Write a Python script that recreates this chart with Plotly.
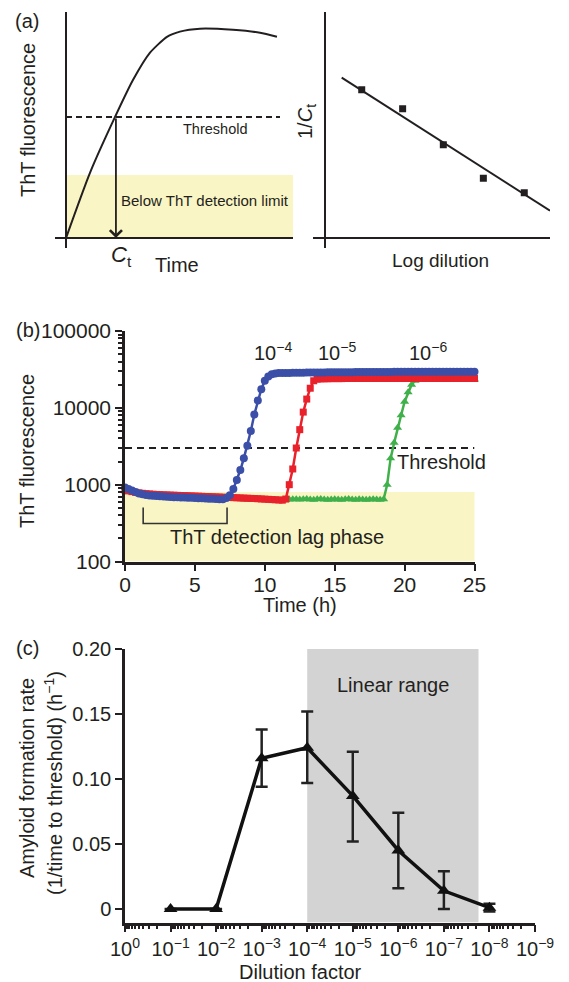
import plotly.graph_objects as go

# ---------------- Panel (a) left: schematic ThT curve ----------------
a_time = [0, 1.09, 2.23, 3.05, 3.82, 4.59, 5.18, 6.09, 7.59, 8.82, 9.59]
a_fluor = [0, 2.88, 5.35, 6.99, 8.19, 8.89, 9.12, 9.25, 9.20, 9.07, 8.89]
a_threshold = 5.35
a_threshold_x = [0, 9.73]
a_ct = 2.27
a_detect_limit = 2.79

# ---------------- Panel (a) right: 1/Ct vs log dilution ----------------
a_logdil = [1.67, 3.53, 5.38, 7.20, 9.06]
a_inv_ct = [6.55, 5.71, 4.12, 2.64, 2.00]
a_fit_x = [0.76, 10.23]
a_fit_y = [7.09, 1.21]

# ---------------- Panel (b): ThT kinetics ----------------
time_h = [0, 0.25, 0.5, 0.75, 1, 1.25, 1.5, 1.75, 2, 2.25, 2.5, 2.75, 3, 3.25, 3.5, 3.75,
          4, 4.25, 4.5, 4.75, 5, 5.25, 5.5, 5.75, 6, 6.25, 6.5, 6.75, 7, 7.25, 7.5, 7.75,
          8, 8.25, 8.5, 8.75, 9, 9.25, 9.5, 9.75, 10, 10.25, 10.5, 10.75, 11, 11.25, 11.5,
          11.75, 12, 12.25, 12.5, 12.75, 13, 13.25, 13.5, 13.75, 14, 14.25, 14.5, 14.75,
          15, 15.25, 15.5, 15.75, 16, 16.25, 16.5, 16.75, 17, 17.25, 17.5, 17.75, 18, 18.25,
          18.5, 18.75, 19, 19.25, 19.5, 19.75, 20, 20.25, 20.5, 20.75, 21, 21.25, 21.5, 21.75,
          22, 22.25, 22.5, 22.75, 23, 23.25, 23.5, 23.75, 24, 24.25, 24.5, 24.75, 25]

fluor_1e4 = [920, 880, 840, 800, 770, 750, 735, 725, 715, 710, 705, 700, 695, 690, 688, 685,
             682, 680, 677, 675, 672, 668, 665, 662, 658, 655, 650, 647, 645,
             670, 730, 880, 1150, 1550, 2200, 3200, 5000, 8200, 12500, 17500, 22500, 25500,
             27300, 28000, 28300,
             28400, 28500, 28500, 28600, 28600, 28700, 28700, 28800, 28800, 28800,
             28900, 28900, 28900, 29000, 29000, 29000, 29000, 29100, 29100, 29100,
             29100, 29200, 29200, 29200, 29200, 29200, 29300, 29300, 29300, 29300,
             29300, 29300, 29400, 29400, 29400, 29400, 29400, 29400, 29400, 29400,
             29500, 29500, 29500, 29500, 29500, 29500, 29500, 29500, 29500, 29500,
             29500, 29500, 29500, 29500, 29500, 29500]

fluor_1e5 = [850, 830, 812, 795, 782, 772, 764, 757, 751, 746,
             742, 738, 735, 732, 729, 726, 723, 720, 717, 714,
             711, 708, 705, 702, 699, 696, 693, 690, 687, 684,
             681, 678, 675, 672, 669, 666, 663, 660, 656, 652,
             648, 644, 640, 636, 632, 628,
             650, 1000, 1600, 3000, 5200, 8800, 13000, 18000, 22500, 23600, 23800,
             23900, 23900, 24000, 24000, 24000, 24000, 24100, 24100, 24100, 24100,
             24100, 24100, 24100, 24100, 24100, 24100, 24100, 24100, 24100, 24100,
             24100, 24100, 24100, 24100, 24100, 24100, 24100, 24100, 24100, 24100,
             24100, 24100, 24100, 24100, 24100, 24100, 24100, 24100, 24100, 24100,
             24100, 24100, 24100, 24100]

fluor_1e6 = [830, 810, 795, 780, 768, 758, 750, 743, 737, 732,
             727, 722, 718, 714, 710, 706, 702, 698, 695, 692,
             689, 686, 683, 680, 677, 674, 671, 668, 665, 662,
             659, 656, 653, 650, 648, 646, 644, 642, 640, 638,
             636, 634, 632, 630, 629, 628, 630, 640, 648, 645,
             640, 645, 650, 642, 638, 645, 650, 640, 635, 642,
             648, 640, 636, 644, 650, 642, 638, 646, 640, 635,
             642, 648, 640, 636, 645,
             1000, 2200, 3500, 5500, 8000, 12000, 16000, 20000, 22600, 23200,
             23300, 23300, 23300, 23300, 23300, 23300, 23300, 23300, 23300, 23300,
             23300, 23300, 23300, 23300, 23300, 23300]

threshold_b = 3000
detect_limit_b = 800
lag_start, lag_end = 1.3, 7.3
lag_bracket_top, lag_bracket_bottom = 506, 313

# ---------------- Panel (c): amyloid formation rate ----------------
dilution = [1e-1, 1e-2, 1e-3, 1e-4, 1e-5, 1e-6, 1e-7, 1e-8]
rate = [0, 0, 0.116, 0.124, 0.087, 0.045, 0.014, 0.001]
rate_err_plus = [0, 0, 0.022, 0.028, 0.034, 0.029, 0.015, 0.003]
rate_err_minus = [0, 0, 0.022, 0.027, 0.035, 0.029, 0.014, 0.003]
linear_range = [1e-4, 1.74e-8]
c_ymin, c_ymax = -0.0104, 0.2

c_tickvals_x = [1, 1e-1, 1e-2, 1e-3, 1e-4, 1e-5, 1e-6, 1e-7, 1e-8, 1e-9]
c_ticktext_x = ["10<sup>0</sup>"] + ["10<sup>\u2212%d</sup>" % k for k in range(1, 10)]

# ---------------- styling helpers ----------------
W, H = 569, 982
FONT = "Liberation Sans, Arial, Helvetica, sans-serif"
INK = "#231f20"
YELLOW = "#faf5c4"
GRAY = "#d3d3d3"
BLUE = "#3b4fa8"
RED = "#e8212b"
GREEN = "#3fb04a"


def px(x):
    return x / W


def py(y):
    return 1 - y / H


fig = go.Figure()

# (a) left
fig.add_trace(go.Scatter(x=a_time, y=a_fluor, mode="lines",
                         line=dict(color=INK, width=2, shape="spline", smoothing=0.6),
                         xaxis="x", yaxis="y"))
fig.add_trace(go.Scatter(x=a_threshold_x, y=[a_threshold, a_threshold], mode="lines",
                         line=dict(color=INK, width=2, dash="6px,4px"),
                         xaxis="x", yaxis="y"))

# (a) right
fig.add_trace(go.Scatter(x=a_fit_x, y=a_fit_y, mode="lines",
                         line=dict(color=INK, width=2), xaxis="x2", yaxis="y2"))
fig.add_trace(go.Scatter(x=a_logdil, y=a_inv_ct, mode="markers",
                         marker=dict(symbol="square", size=7, color=INK),
                         xaxis="x2", yaxis="y2"))

# (b)
fig.add_trace(go.Scatter(x=[0, 25.2, 25.2, 0], y=[100, 100, detect_limit_b, detect_limit_b],
                         fill="toself", fillcolor=YELLOW, mode="none",
                         xaxis="x3", yaxis="y3"))
fig.add_trace(go.Scatter(x=[0, 25], y=[threshold_b, threshold_b], mode="lines",
                         line=dict(color=INK, width=2, dash="7px,5px"),
                         xaxis="x3", yaxis="y3"))
fig.add_trace(go.Scatter(x=time_h, y=fluor_1e6, mode="lines+markers",
                         line=dict(color=GREEN, width=2.5),
                         marker=dict(symbol="triangle-up", size=8, color=GREEN),
                         cliponaxis=False, xaxis="x3", yaxis="y3"))
fig.add_trace(go.Scatter(x=time_h, y=fluor_1e5, mode="lines+markers",
                         line=dict(color=RED, width=2.5),
                         marker=dict(symbol="square", size=7, color=RED),
                         cliponaxis=False, xaxis="x3", yaxis="y3"))
fig.add_trace(go.Scatter(x=time_h, y=fluor_1e4, mode="lines+markers",
                         line=dict(color=BLUE, width=2.5),
                         marker=dict(symbol="circle", size=8, color=BLUE),
                         cliponaxis=False, xaxis="x3", yaxis="y3"))
fig.add_trace(go.Scatter(x=[lag_start, lag_start, lag_end, lag_end],
                         y=[lag_bracket_top, lag_bracket_bottom, lag_bracket_bottom, lag_bracket_top],
                         mode="lines", line=dict(color="#333333", width=1.6),
                         xaxis="x3", yaxis="y3"))

# (c)
fig.add_trace(go.Scatter(x=[linear_range[0], linear_range[1], linear_range[1], linear_range[0]],
                         y=[c_ymin, c_ymin, c_ymax, c_ymax],
                         fill="toself", fillcolor=GRAY, mode="none",
                         xaxis="x4", yaxis="y4"))
fig.add_trace(go.Scatter(x=dilution, y=rate, mode="lines+markers",
                         line=dict(color="#111111", width=3.5),
                         marker=dict(symbol="triangle-up", size=12, color="#111111"),
                         error_y=dict(type="data", symmetric=False, array=rate_err_plus,
                                      arrayminus=rate_err_minus, color="#222222",
                                      thickness=2.5, width=6),
                         cliponaxis=False, xaxis="x4", yaxis="y4"))

# ---------------- axes ----------------
hidden = dict(showticklabels=False, ticks="", showgrid=False, showline=False,
              zeroline=True, zerolinecolor=INK, zerolinewidth=2, fixedrange=True,
              automargin=False)

b_minor_y = [m * 10 ** k for k in (2, 3, 4) for m in range(2, 10)]
c_minor_x = [m * 10 ** (-k) for k in range(1, 10) for m in range(2, 10)]

axis_common = dict(showline=True, linecolor=INK, linewidth=2.5, ticks="outside",
                   ticklen=7, tickwidth=2, tickcolor=INK, showgrid=False, zeroline=False,
                   automargin=False,
                   tickfont=dict(family=FONT, size=21, color=INK))

fig.update_layout(
    width=W, height=H, margin=dict(l=0, r=0, t=0, b=0, pad=0), autosize=False,
    paper_bgcolor="white", plot_bgcolor="rgba(0,0,0,0)", showlegend=False,
    font=dict(family=FONT, color=INK),
    xaxis=dict(domain=[px(55), px(293)], range=[-0.5, 10.32], anchor="y", **hidden),
    yaxis=dict(domain=[py(248), py(11.7)], range=[-0.44, 10], anchor="x", **hidden),
    xaxis2=dict(domain=[px(313), px(550)], range=[-0.545, 10.23], anchor="y2", **hidden),
    yaxis2=dict(domain=[py(248), py(11.7)], range=[-0.44, 10], anchor="x2", **hidden),
    xaxis3=dict(domain=[px(125), px(474.5)], range=[0, 25], anchor="y3",
                tickvals=[0, 5, 10, 15, 20, 25], ticklabelstandoff=-4, **axis_common),
    yaxis3=dict(domain=[py(561.5), py(331)], type="log", range=[2, 5], anchor="x3",
                tickvals=[100, 1000, 10000, 100000],
                ticktext=["100", "1000", "10000", "100000"],
                minor=dict(tickvals=b_minor_y, ticks="outside", ticklen=4, tickwidth=1.5,
                           tickcolor=INK, showgrid=False),
                **axis_common),
    xaxis4=dict(domain=[px(125), px(535)], type="log", range=[0, -9], anchor="y4",
                tickvals=c_tickvals_x, ticktext=c_ticktext_x,
                minor=dict(tickvals=c_minor_x, ticks="outside", ticklen=4, tickwidth=1.5,
                           tickcolor=INK, showgrid=False),
                **{**axis_common, "tickfont": dict(family=FONT, size=20, color=INK)}),
    yaxis4=dict(domain=[py(922.5), py(649)], range=[c_ymin, c_ymax], anchor="x4",
                tickvals=[0, 0.05, 0.10, 0.15, 0.20],
                ticktext=["0", "0.05", "0.10", "0.15", "0.20"],
                **{**axis_common, "tickfont": dict(family=FONT, size=20, color=INK)}),
)

# yellow detection-limit region in (a) below the zero lines
fig.add_shape(type="rect", xref="x", yref="y", x0=0, x1=10.32, y0=0, y1=a_detect_limit,
              fillcolor=YELLOW, line=dict(width=0), layer="below")

# Ct arrow in (a)
fig.add_annotation(x=a_ct, y=0, ax=a_ct, ay=a_threshold, xref="x", yref="y",
                   axref="x", ayref="y", showarrow=True, arrowhead=4, arrowsize=1.3,
                   arrowwidth=1.8, arrowcolor=INK, text="", standoff=0)


def label(text, x, y, size, angle=0, **kw):
    fig.add_annotation(text=text, x=px(x), y=py(y), xref="paper", yref="paper",
                       showarrow=False, textangle=angle, xanchor="center", yanchor="middle",
                       font=dict(family=FONT, size=size, color=INK), **kw)


# panel letters
label("(a)", 27, 21, 20)
label("(b)", 28, 330, 20)
label("(c)", 27, 648, 20)

# (a) texts
label("ThT fluorescence", 28, 120, 20, angle=-90)
label("Threshold", 215, 129, 14.5)
label("Below ThT detection limit", 205, 200, 15)
label("<i>C</i><sub>t</sub>", 121, 256, 22)
label("Time", 177, 265, 20)
label("1/<i>C</i><sub>t</sub>", 307, 122, 20, angle=-90)
label("Log dilution", 440, 260, 19)

# (b) texts
label("ThT fluorescence", 27, 451, 20, angle=-90)
label("10<sup>\u22124</sup>", 273, 352, 20)
label("10<sup>\u22125</sup>", 337, 352, 20)
label("10<sup>\u22126</sup>", 428, 352, 20)
label("Threshold", 442, 462, 20)
label("ThT detection lag phase", 277, 537, 20)
label("Time (h)", 300, 605, 20)

# (c) texts
label("Amyloid formation rate", 27, 778, 20, angle=-90)
label("(1/time to threshold) (h<sup>\u22121</sup>)", 53, 783, 20, angle=-90)
label("Linear range", 393, 685, 20)
label("Dilution factor", 300, 972, 20)

fig.write_html(
    "out.html",
    config={"displayModeBar": False},
    post_script="document.body.style.margin='0';document.body.style.padding='0';"
                "document.documentElement.style.overflow='hidden';",
)
